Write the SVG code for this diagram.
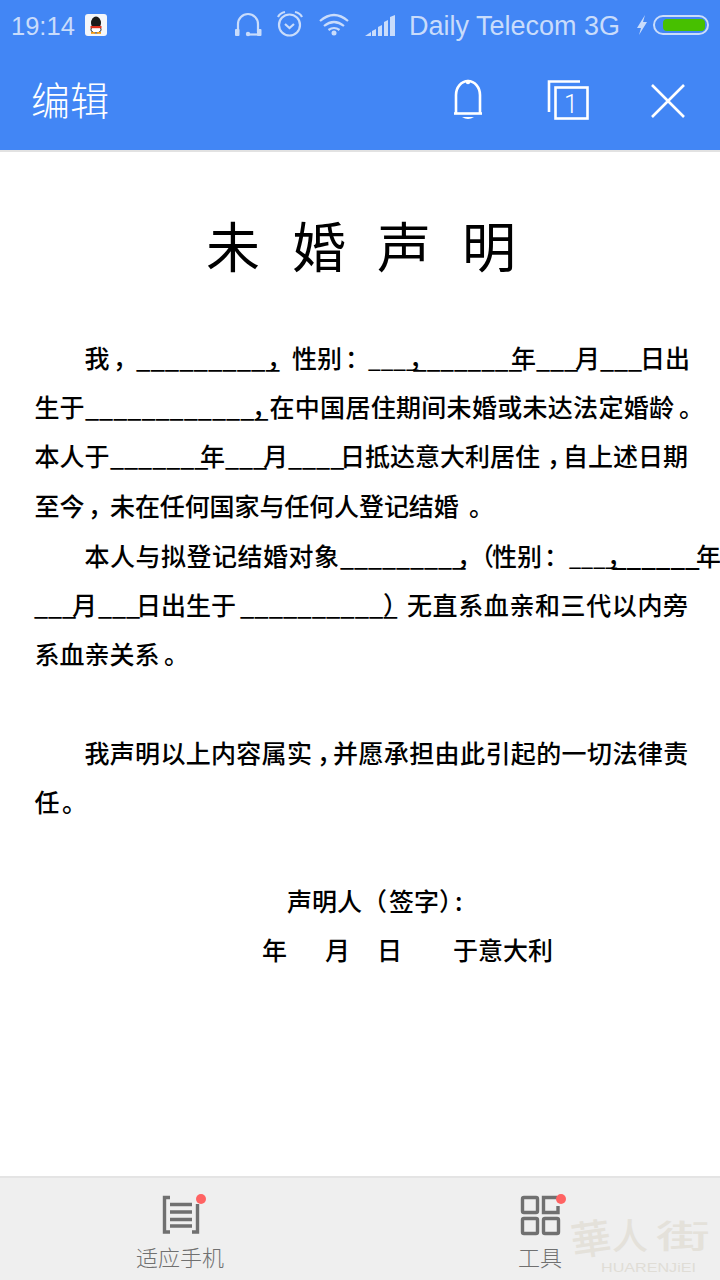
<svg xmlns="http://www.w3.org/2000/svg" width="720" height="1280" viewBox="0 0 720 1280">
<style>
.b{font-family:"Noto Sans CJK SC","Noto Sans",sans-serif;font-size:25px;font-weight:500;fill:#000}
.s{font-family:"Liberation Sans",Arial,sans-serif;font-size:27px;fill:#c9dcfb}
.t{font-family:"Noto Sans CJK SC",sans-serif;font-size:54px;fill:#000}
.nav{font-family:"Noto Sans CJK SC",sans-serif;font-size:22px;font-weight:300;fill:#707070}
.st{fill:none;stroke:#c9dcfb;stroke-width:2.2}
.w{fill:none;stroke:#fff;stroke-width:2.6}
.g{fill:none;stroke:#707070;stroke-width:3.4}
</style>
<rect width="720" height="1280" fill="#fff"/>
<g id="header">
<rect width="720" height="150" fill="#4286f5"/>
<rect y="150" width="720" height="2" fill="#e2e2e2"/>
<text class="s" x="11" y="35" style="font-size:25.500px">19:14</text>
<g id="qq">
<rect x="85" y="14" width="22" height="22" rx="3" fill="#f4f6fa"/>
<ellipse cx="96" cy="23" rx="5" ry="6.500" fill="#1b1b1b"/>
<ellipse cx="96" cy="29.500" rx="5" ry="3.500" fill="#fff" stroke="#1b1b1b" stroke-width="1"/>
<rect x="90.500" y="26" width="11" height="2.200" fill="#e0301e"/>
<rect x="91" y="32" width="4" height="1.800" fill="#f29a12"/>
<rect x="97" y="32" width="4" height="1.800" fill="#f29a12"/>
</g>
<g id="status-icons">
<path class="st" d="M238 32V24a10 10 0 0 1 20 0V32"/>
<rect x="235" y="29" width="4.500" height="7" rx="1" fill="#c9dcfb"/>
<rect x="257" y="29" width="4.500" height="7" rx="1" fill="#c9dcfb"/>
<path class="st" d="M248 34.500H258"/>
<circle cx="248" cy="34" r="2.200" fill="#c9dcfb"/>
<circle cx="289.500" cy="25" r="10.500" class="st"/>
<path class="st" d="M285 24l4.500 4 4.500-4"/>
<path class="st" d="M278 17q2-4 7-5M295 12q5 1 7 5" stroke-width="2"/>
<path class="st" d="M320 21q14-12 28 0" stroke-width="3"/>
<path class="st" d="M324 26q10-8 20 0" stroke-width="3"/>
<path class="st" d="M328.500 30q5.500-4 11 0" stroke-width="3"/>
<circle cx="334" cy="33" r="2.500" fill="#c9dcfb"/>
<path fill="#c9dcfb" d="M365 36l6-4v4zM372 31l4-2v7h-4zM378 27l4-2v11h-4zM384 22l4-2v16h-4zM390 17l5-2v21h-5z"/>
<text class="s" x="409" y="35">Daily Telecom 3G</text>
<path fill="#c9dcfb" d="M645 15l-8 13h4l-2 7 8-13h-4z"/>
<rect x="654" y="16" width="54" height="18" rx="9" fill="none" stroke="#c9dcfb" stroke-width="2"/>
<rect x="663" y="19" width="42" height="12" rx="4" fill="#47c000"/>
</g>
<text id="title-edit" x="31" y="115" font-family="'Noto Sans CJK SC',sans-serif" font-size="39" font-weight="300" fill="#fff">编辑</text>
<g id="bell">
<path class="w" d="M456 113V95a12 14 0 0 1 24 0V113"/>
<path class="w" d="M454 113.500H482"/>
<circle cx="468" cy="82" r="2.200" fill="#fff"/>
<path fill="#fff" d="M462 117h12q-6 4-12 0z"/>
</g>
<g id="tabs">
<path class="w" d="M549 112V81.500H580" stroke-width="3"/>
<rect x="555.500" y="87.500" width="32" height="31" class="w" stroke-width="3"/>
<text x="571" y="113" text-anchor="middle" font-family="Roboto,sans-serif" font-size="25" font-weight="300" fill="#fff">1</text>
</g>
<path id="close" class="w" d="M652 85L684 117M684 85L652 117"/>
</g>
<g id="document">
<text class="t"><tspan x="206" y="268">未</tspan><tspan x="292" y="268">婚</tspan><tspan x="377" y="268">声</tspan><tspan x="462" y="268">明</tspan></text>
<text class="b" y="368"><tspan x="84.500">我</tspan><tspan x="113">，</tspan><tspan x="136" font-size="25.600">__________</tspan><tspan x="267">，</tspan><tspan x="292">性别</tspan><tspan x="345">：</tspan><tspan x="368" font-size="22.500">____</tspan><tspan x="409">，</tspan><tspan x="413" font-size="24.250">________</tspan><tspan x="511">年</tspan><tspan x="536">___</tspan><tspan x="575">月</tspan><tspan x="600">___</tspan><tspan x="640">日</tspan><tspan x="665">出</tspan></text>
<text class="b" y="417"><tspan x="34.500">生于</tspan><tspan x="85" font-size="25.100">_____________</tspan><tspan x="252">，</tspan><tspan x="269.500" letter-spacing=".3">在中国居住期间未婚或未达法定婚龄</tspan><tspan x="679">。</tspan></text>
<text class="b" y="466"><tspan x="34.500">本人于</tspan><tspan x="110">_______</tspan><tspan x="200">年</tspan><tspan x="225">___</tspan><tspan x="263">月</tspan><tspan x="288">____</tspan><tspan x="340">日抵达意大利居住</tspan><tspan x="547">，</tspan><tspan x="563">自上述日期</tspan></text>
<text class="b" y="516"><tspan x="34.500">至今</tspan><tspan x="88">，</tspan><tspan x="110" letter-spacing="-.1">未在任何国家与任何人登记结婚</tspan><tspan x="469">。</tspan></text>
<text class="b" y="566"><tspan x="84.500" letter-spacing=".5">本人与拟登记结婚对象</tspan><tspan x="340" font-size="24.900">_________</tspan><tspan x="457">，</tspan><tspan x="469">（</tspan><tspan x="492">性别</tspan><tspan x="544">：</tspan><tspan x="569" font-size="21.500">____</tspan><tspan x="607">，</tspan><tspan x="612" font-size="26">______</tspan><tspan x="696">年</tspan></text>
<text class="b" y="615"><tspan x="34">___</tspan><tspan x="72">月</tspan><tspan x="98">___</tspan><tspan x="136">日出生于</tspan><tspan x="240" font-size="25.500">___________</tspan><tspan x="383">）</tspan><tspan x="407" letter-spacing=".6">无直系血亲和三代以内旁</tspan></text>
<text class="b" y="664"><tspan x="34.500">系血亲关系</tspan><tspan x="164">。</tspan></text>
<text class="b" y="763"><tspan x="84.500" letter-spacing=".3">我声明以上内容属实</tspan><tspan x="317">，</tspan><tspan x="333" letter-spacing=".4">并愿承担由此引起的一切法律责</tspan></text>
<text class="b" y="812"><tspan x="34.500">任</tspan><tspan x="62">。</tspan></text>
<text class="b" y="911"><tspan x="287">声明人</tspan><tspan x="362">（</tspan><tspan x="389">签字</tspan><tspan x="439">）</tspan><tspan x="455">:</tspan></text>
<text class="b" y="960"><tspan x="262">年</tspan><tspan x="325">月</tspan><tspan x="377">日</tspan><tspan x="453">于意大利</tspan></text>
</g>
<g id="bottom-bar">
<rect y="1177" width="720" height="103" fill="#efefef"/>
<rect y="1176" width="720" height="2" fill="#e4e4e4"/>
<g id="nav-fit">
<path class="g" d="M170 1197.500H164.500V1232H170M192 1232H197.500V1204"/>
<path class="g" d="M170 1204.500H192M170 1212H192M170 1219.500H192M170 1226H192" stroke-width="2.800"/>
<circle cx="201" cy="1199" r="5" fill="#ff6363"/>
<text class="nav" x="136" y="1266">适应手机</text>
</g>
<g id="nav-tools">
<rect x="522.500" y="1197.500" width="15" height="15" rx="1.500" class="g"/>
<path class="g" d="M557 1197.500H543.500V1212.500H558V1206"/>
<rect x="522.500" y="1218.500" width="15" height="15" rx="1.500" class="g"/>
<rect x="543.500" y="1218.500" width="15" height="15" rx="1.500" class="g"/>
<circle cx="561" cy="1199" r="5" fill="#ff6363"/>
<text class="nav" x="518" y="1266">工具</text>
</g>
<g id="watermark" font-family="'Noto Sans CJK SC',sans-serif" fill="#e4e1da">
<text x="571" y="1254" font-size="40" font-weight="500" transform="rotate(-8 590 1240)">華</text>
<text x="612" y="1250" font-size="36" font-weight="500">人</text>
<text x="656" y="1248" font-size="32" font-weight="500" textLength="54" lengthAdjust="spacingAndGlyphs">街</text>
<text x="601" y="1272" font-family="'Liberation Sans',sans-serif" font-size="13" textLength="95" lengthAdjust="spacingAndGlyphs" fill="#e0ddd6">HUARENJiEI</text>
</g>
</g>
</svg>
